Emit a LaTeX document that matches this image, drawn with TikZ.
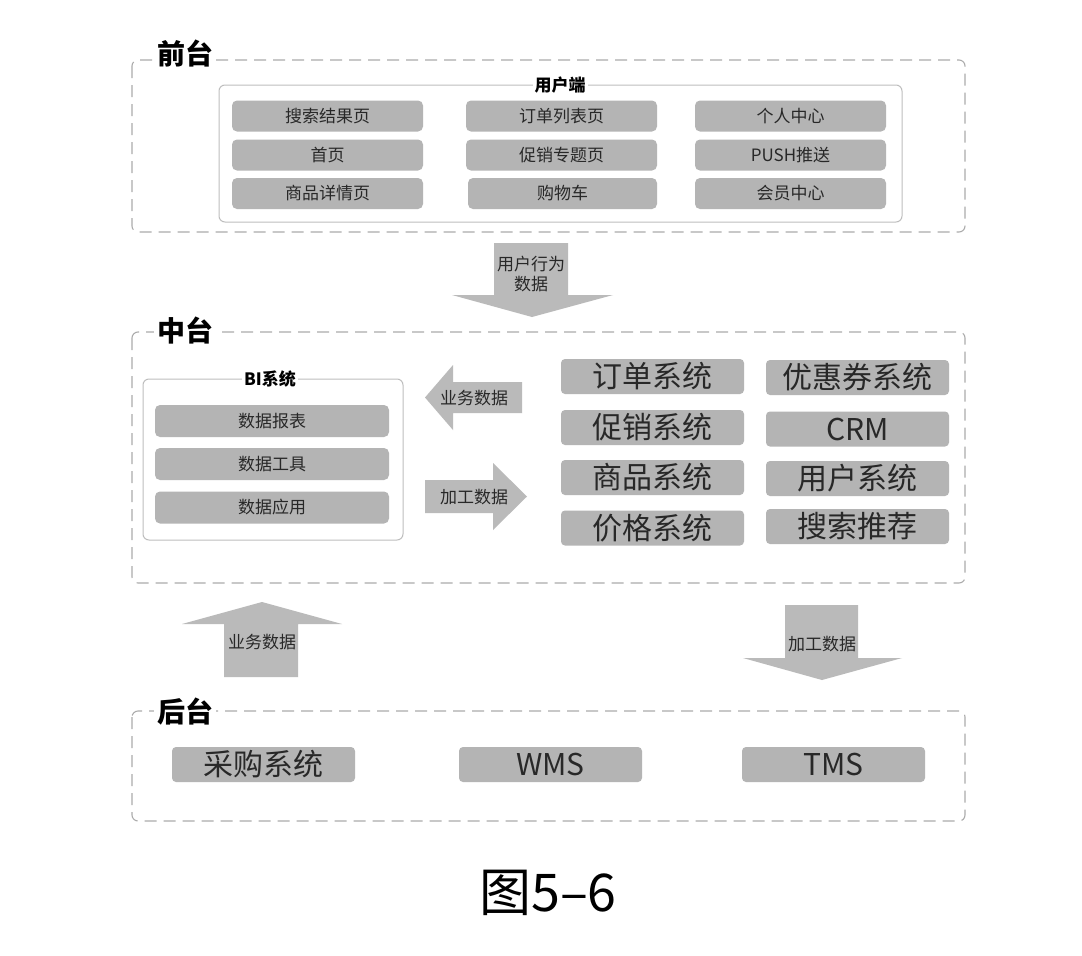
\documentclass[tikz,border=0pt]{standalone}
\usepackage{fontspec}
\setmainfont{Noto Sans CJK SC}
\definecolor{boxgray}{RGB}{180,180,180}
\definecolor{arrgray}{RGB}{186,186,186}
\definecolor{framegray}{RGB}{172,172,172}
\definecolor{innergray}{RGB}{190,190,190}
\definecolor{txt}{RGB}{40,40,40}
\tikzset{
  frame/.style={draw=framegray, line width=1.1pt, dash pattern=on 12pt off 7pt, rounded corners=6pt},
  inner/.style={draw=innergray, line width=1pt, rounded corners=6pt},
  sect/.style={fill=white, text=black, inner sep=3pt, font=\fontsize{28}{28}\selectfont\bfseries},
  ttl/.style={fill=white, text=black, inner sep=2pt, font=\fontsize{17}{17}\selectfont\bfseries},
  btn/.style={fill=boxgray, rounded corners=5pt, text=txt, inner sep=0pt, font=\fontsize{17}{17}\selectfont},
  sbtn/.style={btn, rounded corners=4pt, font=\fontsize{30}{30}\selectfont},
  arr/.style={fill=arrgray},
  atxt/.style={text=txt, inner sep=0pt, font=\fontsize{17}{20}\selectfont, align=center},
}
\begin{document}
\begin{tikzpicture}[x=1pt,y=-1pt]
\useasboundingbox[fill=white] (0,0) rectangle (1082,956);

% ---------- 前台 ----------
\draw[frame] (132,60) rectangle (965,232);
\node[sect] (lq) at (185,54) {前台};
\draw[inner] (219,85) rectangle (902,222);
\node[ttl] (yhd) at (560,85) {用户端};
\node[btn, minimum width=191, minimum height=31] (q11) at (327.5,116) {搜索结果页};
\node[btn, minimum width=191, minimum height=31] (q21) at (327.5,155) {首页};
\node[btn, minimum width=191, minimum height=31] (q31) at (327.5,193.5) {商品详情页};
\node[btn, minimum width=191, minimum height=31] (q12) at (561.5,116) {订单列表页};
\node[btn, minimum width=191, minimum height=31] (q22) at (561.5,155) {促销专题页};
\node[btn, minimum width=189, minimum height=31] (q32) at (562.5,193.5) {购物车};
\node[btn, minimum width=191, minimum height=31] (q13) at (790.5,116) {个人中心};
\node[btn, minimum width=191, minimum height=31] (q23) at (790.5,155) {PUSH推送};
\node[btn, minimum width=191, minimum height=31] (q33) at (790.5,193.5) {会员中心};

% arrow 用户行为数据
\fill[arr] (494,243) -- (568,243) -- (568,295) -- (613,295) -- (532,317) -- (452,295) -- (494,295) -- cycle;
\node[atxt] (a1) at (531,274) {用户行为\\数据};

% ---------- 中台 ----------
\draw[frame] (132,332) rectangle (965,583);
\node[sect] (lz) at (185,331) {中台};
\draw[inner] (143,379) rectangle (403,540);
\node[ttl] (bi) at (270,379) {BI系统};
\node[btn, minimum width=234, minimum height=32] (bi1) at (272,421) {数据报表};
\node[btn, minimum width=234, minimum height=32] (bi2) at (272,464) {数据工具};
\node[btn, minimum width=234, minimum height=32] (bi3) at (272,507.5) {数据应用};

% left arrow 业务数据
\fill[arr] (522,382) -- (453,382) -- (453,365) -- (425,397.5) -- (453,430) -- (453,413) -- (522,413) -- cycle;
\node[atxt] (a2) at (474,398) {业务数据};
% right arrow 加工数据
\fill[arr] (425,480) -- (493,480) -- (493,463) -- (527,496.5) -- (493,530) -- (493,513) -- (425,513) -- cycle;
\node[atxt] (a3) at (474,497) {加工数据};

\node[sbtn, minimum width=183, minimum height=35] (z11) at (652.5,376.5) {订单系统};
\node[sbtn, minimum width=183, minimum height=35] (z21) at (652.5,427.5) {促销系统};
\node[sbtn, minimum width=183, minimum height=35] (z31) at (652.5,477.5) {商品系统};
\node[sbtn, minimum width=183, minimum height=35] (z41) at (652.5,528) {价格系统};
\node[sbtn, minimum width=183, minimum height=35] (z12) at (857.5,377.5) {优惠券系统};
\node[sbtn, minimum width=183, minimum height=35] (z22) at (857.5,429) {CRM};
\node[sbtn, minimum width=183, minimum height=35] (z32) at (857.5,478.5) {用户系统};
\node[sbtn, minimum width=183, minimum height=35] (z42) at (857.5,526.5) {搜索推荐};

% up arrow 业务数据
\fill[arr] (224,677) -- (224,624) -- (182,624) -- (262,602) -- (342,624) -- (298,624) -- (298,677) -- cycle;
\node[atxt] (a4) at (262,642) {业务数据};
% down arrow 加工数据
\fill[arr] (785,605) -- (858,605) -- (858,658) -- (902,658) -- (822,680) -- (743,658) -- (785,658) -- cycle;
\node[atxt] (a5) at (822,644) {加工数据};

% ---------- 后台 ----------
\draw[frame] (132,711) rectangle (965,821);
\node[sect] (lh) at (185,712) {后台};
\node[sbtn, minimum width=183, minimum height=35] (h1) at (263.5,764.5) {采购系统};
\node[sbtn, minimum width=183, minimum height=35] (h2) at (550.5,764.5) {WMS};
\node[sbtn, minimum width=183, minimum height=35] (h3) at (833.5,764.5) {TMS};

% caption
\node[text=black, inner sep=0pt, font=\fontsize{52}{52}\selectfont] (cap) at (548,893) {图5–6};
\end{tikzpicture}
\end{document}
